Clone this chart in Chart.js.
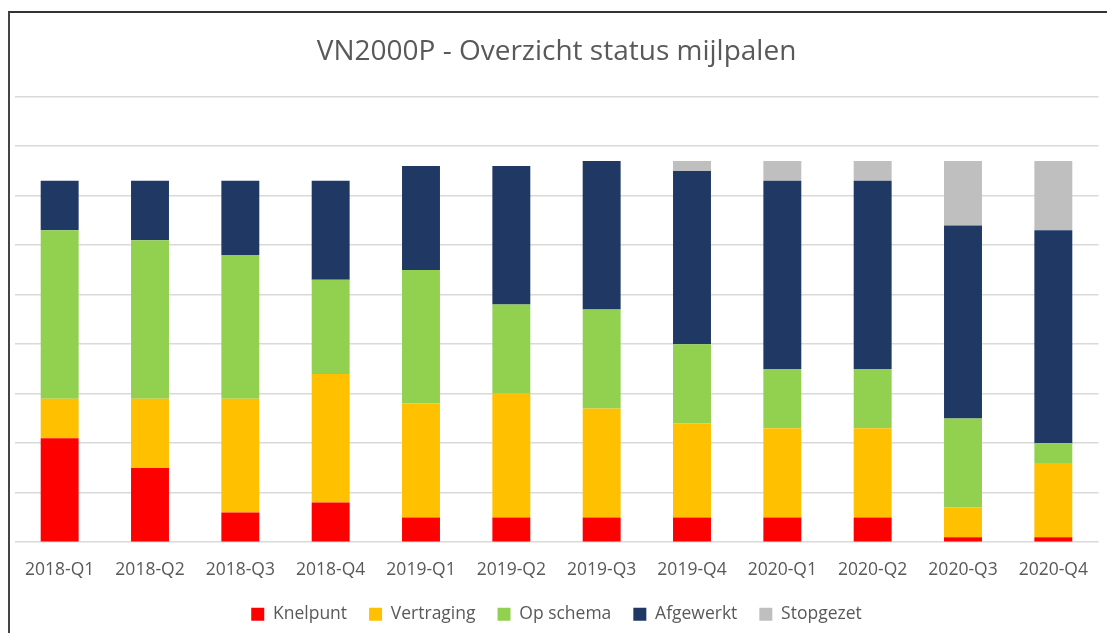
<!DOCTYPE html>
<html>
<head>
<meta charset="utf-8">
<script src="https://cdn.jsdelivr.net/npm/chart.js@4/dist/chart.umd.min.js"></script>
<style>
  html, body { margin: 0; padding: 0; background: #ffffff; width: 1107px; height: 633px; overflow: hidden; }
  #frame { position: absolute; left: 8px; top: 11px; width: 1099px; height: 622px;
           border-left: 2px solid #444444; border-top: 2px solid #333333; box-sizing: border-box; }
  #wrap { position: absolute; left: 10px; top: 13px; width: 1097px; height: 620px; }
</style>
</head>
<body>
<div id="frame"></div>
<div id="wrap"><canvas id="c"></canvas></div>
<script>
const categories = ['2018-Q1','2018-Q2','2018-Q3','2018-Q4','2019-Q1','2019-Q2','2019-Q3','2019-Q4','2020-Q1','2020-Q2','2020-Q3','2020-Q4'];
const knelpunt   = [21, 15,  6,  8,  5,  5,  5,  5,  5,  5,  1,  1];
const vertraging = [ 8, 14, 23, 26, 23, 25, 22, 19, 18, 18,  6, 15];
const opSchema   = [34, 32, 29, 19, 27, 18, 20, 16, 12, 12, 18,  4];
const afgewerkt  = [10, 12, 15, 20, 21, 28, 30, 35, 38, 38, 39, 43];
const stopgezet  = [ 0,  0,  0,  0,  0,  0,  0,  2,  4,  4, 13, 14];
const seriesNames = ['Knelpunt','Vertraging','Op schema','Afgewerkt','Stopgezet'];
const seriesColors = ['#FF0000','#FFC000','#92D050','#203864','#BFBFBF'];
const yMax = 90;
const yStep = 10;
const chartTitle = 'VN2000P - Overzicht status mijlpalen';

const seriesData = [knelpunt, vertraging, opSchema, afgewerkt, stopgezet];
const datasets = seriesNames.map((name, i) => ({
  label: name,
  data: seriesData[i],
  backgroundColor: seriesColors[i],
  borderWidth: 0,
  barPercentage: 0.42,
  categoryPercentage: 1.0
}));

const FONT = "'Open Sans', 'DejaVu Sans', sans-serif";
new Chart(document.getElementById('c'), {
  type: 'bar',
  data: { labels: categories, datasets },
  options: {
    responsive: true,
    maintainAspectRatio: false,
    animation: false,
    layout: { padding: { left: 4.5, right: 8.5, top: 22.2, bottom: 0 } },
    plugins: {
      title: {
        display: true,
        text: chartTitle,
        color: '#595959',
        font: { family: FONT, size: 28, weight: 'normal' },
        padding: { top: 0, bottom: 27.9 }
      },
      legend: {
        position: 'bottom',
        labels: {
          color: '#595959',
          font: { family: FONT, size: 17.5 },
          boxWidth: 13,
          boxHeight: 13,
          padding: 22
        }
      },
      tooltip: { enabled: false }
    },
    scales: {
      x: {
        stacked: true,
        grid: { display: false },
        border: { display: false },
        ticks: { color: '#595959', font: { family: FONT, size: 17.5 }, padding: 9, maxRotation: 0 },
        afterFit: (scale) => { scale.height -= 5.7; }
      },
      y: {
        stacked: true,
        min: 0,
        max: yMax,
        ticks: { display: false, stepSize: yStep },
        grid: { color: '#D9D9D9', lineWidth: 1.5, drawTicks: false },
        border: { display: false }
      }
    }
  }
});
</script>
</body>
</html>
